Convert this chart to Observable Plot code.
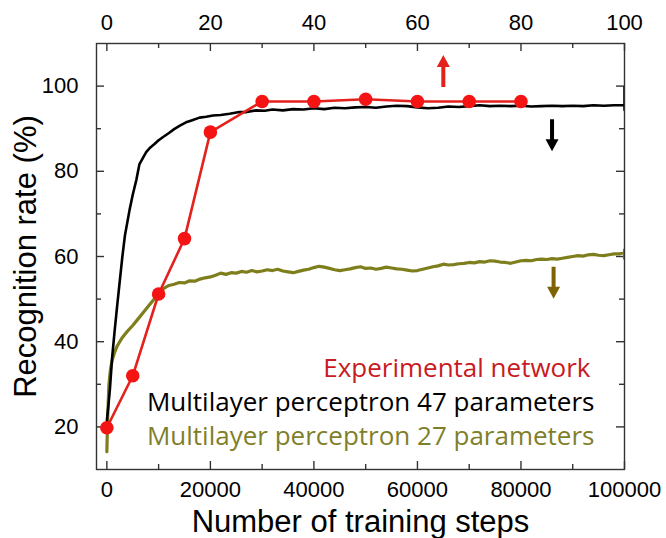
<!DOCTYPE html>
<html>
<head>
<meta charset="utf-8">
<script src="https://cdn.jsdelivr.net/npm/d3@7"></script>
<script src="https://cdn.jsdelivr.net/npm/@observablehq/plot@0.6"></script>
<style>
  html, body { margin: 0; padding: 0; background: #fff; }
</style>
</head>
<body>
<div id="chart"></div>
<script>
// ---- Data ----
// Experimental network (top axis, training steps in thousands)
const expStepsK = [0, 5, 10, 15, 20, 30, 40, 50, 60, 70, 80];
const expRate   = [19.8, 32.0, 51.2, 64.2, 89.2, 96.4, 96.4, 96.9, 96.4, 96.4, 96.4];

// Multilayer perceptron, 47 parameters (bottom axis, training steps)
const mlp47Steps = [0, 300, 600, 1000, 1500, 2000, 2500, 3000, 3500, 4400, 5000, 5700, 6300, 7000, 7600, 8400, 9200, 10000, 10800, 12000, 13000, 14200, 15300, 16500, 17900, 19200, 20500, 22000, 23700, 25600, 27000, 28800, 30500, 32000,
  34000, 36000, 38000, 40000, 42000, 44000, 46000, 48000, 50000, 52000, 54000, 56000, 58000, 60000, 62000, 64000, 66000, 68000, 70000, 72000, 74000, 76000, 78000, 80000, 82000, 84000, 86000, 88000, 90000, 92000, 94000, 96000, 98000, 100000, 100000, 100000];
const mlp47Rate  = [21.5, 25.0, 29.0, 36.0, 42.5, 48.5, 54.3, 60.0, 65.0, 71.0, 74.5, 78.0, 81.7, 83.2, 84.5, 85.6, 86.4, 87.3, 88.0, 89.0, 89.9, 90.8, 91.5, 92.0, 92.6, 92.8, 93.1, 93.2, 93.5, 93.9, 93.9, 94.3, 94.2, 94.5,
  94.3, 94.6, 94.5, 94.8, 94.6, 94.9, 94.8, 95.0, 95.1, 94.9, 95.2, 95.4, 95.3, 95.0, 94.8, 94.9, 95.2, 95.1, 95.3, 95.5, 95.3, 95.4, 95.3, 95.4, 95.2, 95.3, 95.4, 95.3, 95.4, 95.3, 95.5, 95.4, 95.5, 95.5, 99.8, 94.4];

// Multilayer perceptron, 27 parameters (bottom axis, training steps)
const mlp27Steps = [0, 150, 400, 700, 1000, 1500, 2000, 3000, 4000, 5000, 6000, 7000, 8000, 9000,
  10000, 11000, 12000, 13000, 14000, 15000, 16000, 17000, 18000, 19000, 20000, 21000, 22000, 23000, 24000, 25000, 26000, 27000, 28000, 29000,
  30000, 31000, 32000, 33000, 34000, 35000, 36000, 37000, 38000, 39000, 40000, 41000, 42000, 43000, 44000, 45000, 46000, 47000, 48000, 49000,
  50000, 51000, 52000, 53000, 54000, 55000, 56000, 57000, 58000, 59000, 60000, 61000, 62000, 63000, 64000, 65000, 66000, 67000, 68000, 69000,
  70000, 71000, 72000, 73000, 74000, 75000, 76000, 77000, 78000, 79000, 80000, 81000, 82000, 83000, 84000, 85000, 86000, 87000, 88000, 89000,
  90000, 91000, 92000, 93000, 94000, 95000, 96000, 97000, 98000, 99000, 100000, 100000, 100000];
const mlp27Rate  = [14.2, 22.0, 30.0, 33.5, 35.5, 37.5, 39.0, 41.0, 42.5, 43.8, 45.3, 46.8, 48.3, 49.8,
  51.2, 52.5, 53.2, 53.5, 53.9, 53.8, 54.3, 54.2, 54.7, 55.0, 55.2, 55.6, 56.1, 55.8, 56.2, 56.1, 56.5, 56.3, 56.7, 56.4,
  56.6, 56.9, 56.7, 57.0, 56.6, 56.4, 56.2, 56.5, 56.8, 57.0, 57.4, 57.7, 57.5, 57.2, 56.9, 56.7, 56.9, 57.1, 57.4, 57.6,
  57.2, 57.3, 57.0, 57.2, 57.5, 57.3, 57.1, 57.0, 56.8, 56.6, 56.7, 57.0, 57.3, 57.6, 57.8, 58.2, 58.0, 58.1, 58.3, 58.4,
  58.6, 58.5, 58.8, 58.7, 59.0, 58.9, 58.7, 58.6, 58.4, 58.7, 59.0, 59.1, 59.0, 59.3, 59.4, 59.3, 59.5, 59.4, 59.6, 59.8,
  60.0, 60.2, 60.1, 60.4, 60.5, 60.3, 60.2, 60.4, 60.6, 60.6, 61.0, 61.5, 59.6];

// Axis ticks
const xMajorTicks = [0, 20000, 40000, 60000, 80000, 100000];
const xMinorTicks = [10000, 30000, 50000, 70000, 90000];
const yMajorTicks = [20, 40, 60, 80, 100];
const yMinorTicks = [30, 50, 70, 90];

// Labels
const xTitle = "Number of training steps";
const yTitle = "Recognition rate (%)";
const legendLabels = ["Experimental network", "Multilayer perceptron 47 parameters", "Multilayer perceptron 27 parameters"];

// Arrow annotations (which axis each series uses): step, rate at the arrow tail
const arrowSteps = [65000, 86000, 86300];
const arrowRates = [99.8, 92.2, 57.6];
const arrowDirs  = ["up", "down", "down"];

// ---- Build tables ----
const expData = expStepsK.map((k, i) => ({x: k * 1000, y: expRate[i]}));
const mlp47 = mlp47Steps.map((s, i) => ({x: s, y: mlp47Rate[i]}));
const mlp27 = mlp27Steps.map((s, i) => ({x: s, y: mlp27Rate[i]}));
const arrows = arrowSteps.map((s, i) => ({x: s, y: arrowRates[i], dir: arrowDirs[i]}));

// ---- Layout ----
const W = 666, H = 538;
const mT = 43, mB = 69, mL = 96, mR = 42;
const innerH = H - mT - mB;
const innerW = W - mL - mR;
const majorLen = 8, minorLen = 5;
const axisColor = "#333";
const numFont = "'Liberation Sans', Arial, sans-serif";
const legFont = "'Open Sans', sans-serif";

const colRed = "#e3211d", colRedDot = "#f41414", colRedText = "#c81a22";
const colOlive = "#7e7e1c", colOliveText = "#7f7f2a", colOliveArrow = "#7f6206";

const arrowShape = {
  draw(ctx, l) {
    const hw = 6.5, sw = 2, hl = 12;
    ctx.moveTo(-sw, 0);
    ctx.lineTo(-sw, -(l - hl));
    ctx.lineTo(-hw, -(l - hl));
    ctx.lineTo(0, -l);
    ctx.lineTo(hw, -(l - hl));
    ctx.lineTo(sw, -(l - hl));
    ctx.lineTo(sw, 0);
    ctx.closePath();
  }
};
const arrowColor = [colRed, "#000", colOliveArrow];

const plot = Plot.plot({
  width: W,
  height: H,
  marginTop: mT,
  marginBottom: mB,
  marginLeft: mL,
  marginRight: mR,
  style: {fontFamily: numFont, background: "#fff", color: "#000"},
  x: {domain: [-2000, 100000], axis: null},
  y: {domain: [10, 110], axis: null},
  marks: [
    // ticks (inward)
    Plot.tickX(xMajorTicks, {x: d => d, insetTop: innerH - majorLen, stroke: axisColor, strokeWidth: 1.4}),
    Plot.tickX(xMinorTicks, {x: d => d, insetTop: innerH - minorLen, stroke: axisColor, strokeWidth: 1.4}),
    Plot.tickX(xMajorTicks, {x: d => d, insetBottom: innerH - majorLen, stroke: axisColor, strokeWidth: 1.4}),
    Plot.tickX(xMinorTicks, {x: d => d, insetBottom: innerH - minorLen, stroke: axisColor, strokeWidth: 1.4}),
    Plot.tickY(yMajorTicks, {y: d => d, insetRight: innerW - majorLen, stroke: axisColor, strokeWidth: 1.4}),
    Plot.tickY(yMinorTicks, {y: d => d, insetRight: innerW - minorLen, stroke: axisColor, strokeWidth: 1.4}),
    Plot.tickY(yMajorTicks, {y: d => d, insetLeft: innerW - majorLen, stroke: axisColor, strokeWidth: 1.4}),
    Plot.tickY(yMinorTicks, {y: d => d, insetLeft: innerW - minorLen, stroke: axisColor, strokeWidth: 1.4}),
    // tick labels
    Plot.axisX({anchor: "bottom", ticks: xMajorTicks, tickSize: 0, tickPadding: 12, tickFormat: d => String(d), fontSize: 22, label: null}),
    Plot.axisX({anchor: "top", ticks: xMajorTicks, tickSize: 0, tickPadding: 14, tickFormat: d => String(d / 1000), fontSize: 22, label: null}),
    Plot.axisY({anchor: "left", ticks: yMajorTicks, tickSize: 0, tickPadding: 18, tickFormat: d => String(d), fontSize: 22, label: null}),
    // series
    Plot.line(mlp27, {x: "x", y: "y", stroke: colOlive, strokeWidth: 3.2, clip: true}),
    Plot.line(mlp47, {x: "x", y: "y", stroke: "#000", strokeWidth: 2.6, clip: true}),
    Plot.line(expData, {x: "x", y: "y", stroke: colRed, strokeWidth: 2.6}),
    Plot.dot(expData, {x: "x", y: "y", r: 6.8, fill: colRedDot, stroke: "none"}),
    // axis-direction arrows
    Plot.vector(arrows, {x: "x", y: "y", length: 32, anchor: "start", rotate: d => d.dir === "up" ? 0 : 180,
      shape: arrowShape, fill: (d, i) => arrowColor[i], stroke: "none"}),
    // legend text
    Plot.text([legendLabels[0]], {frameAnchor: "bottom-right", dx: -34, dy: -93, lineAnchor: "bottom", textAnchor: "end",
      fontFamily: legFont, fontSize: 26, fill: colRedText}),
    Plot.text([legendLabels[1]], {frameAnchor: "bottom-right", dx: -30, dy: -59, lineAnchor: "bottom", textAnchor: "end",
      fontFamily: legFont, fontSize: 26, fill: "#000"}),
    Plot.text([legendLabels[2]], {frameAnchor: "bottom-right", dx: -30, dy: -25, lineAnchor: "bottom", textAnchor: "end",
      fontFamily: legFont, fontSize: 26, fill: colOliveText}),
    // axis titles
    Plot.text([xTitle], {frameAnchor: "bottom", dy: 62, lineAnchor: "bottom", textAnchor: "middle", fontSize: 31, fill: "#000"}),
    Plot.text([yTitle], {frameAnchor: "left", dx: -61, rotate: -90, lineAnchor: "bottom", textAnchor: "middle", fontSize: 31, fill: "#000"}),
    Plot.frame({stroke: axisColor, strokeWidth: 1.4})
  ]
});

document.getElementById("chart").appendChild(plot);
</script>
</body>
</html>
